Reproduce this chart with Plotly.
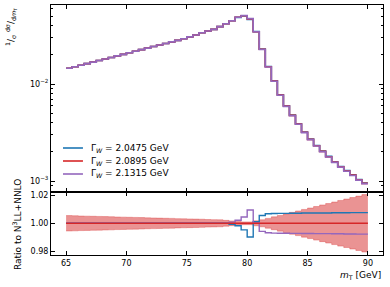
import plotly.graph_objects as go

# ---------------- data ----------------
bin_edges = [65.0 + 0.5 * i for i in range(51)]

# central prediction (N3LL+NNLO, Gamma_W = 2.0895 GeV), 1/sigma dsigma/dmT per bin
central = [0.01452, 0.01506, 0.01563, 0.01622, 0.01682, 0.01745, 0.01811, 0.01879,
           0.01950, 0.02022, 0.02099, 0.02177, 0.02259, 0.02344, 0.02432, 0.02523,
           0.02618, 0.02716, 0.02818, 0.02924, 0.03060, 0.03200, 0.03380, 0.03520,
           0.03660, 0.03900, 0.04180, 0.04490, 0.04870, 0.05060, 0.04680, 0.03460,
           0.02280, 0.01506, 0.01074, 0.00770, 0.00593, 0.00475, 0.00387, 0.00318,
           0.00269, 0.00231, 0.00202, 0.00178, 0.00157, 0.00140, 0.00127, 0.00115,
           0.00103, 0.000946]

# ratio of the other widths to the central prediction
ratio_low = [1.0] * 27 + [0.9992, 0.9982, 0.9953, 0.9902, 1.0012, 1.0056, 1.0068,
                          1.0070, 1.0071, 1.0071, 1.0072, 1.0072, 1.0073, 1.0073, 1.0074,
                          1.0074, 1.0074, 1.0075, 1.0075, 1.0075, 1.0076, 1.0076, 1.0076,
                          1.0076]
ratio_high = [1.0] * 27 + [1.0008, 1.0022, 1.0045, 1.0095, 1.0005, 0.9942, 0.9932,
                           0.9930, 0.9929, 0.9929, 0.9928, 0.9928, 0.9927, 0.9927, 0.9926,
                           0.9926, 0.9926, 0.9925, 0.9925, 0.9924, 0.9924, 0.9923, 0.9923,
                           0.9923]

# relative uncertainty half-width of the central prediction
band_hw = [0.0055, 0.0054, 0.0052, 0.0051, 0.0050, 0.0049, 0.0048, 0.0047, 0.0045,
           0.0044, 0.0043, 0.0042, 0.0041, 0.0039, 0.0038, 0.0037, 0.0036, 0.0035,
           0.0033, 0.0032, 0.0031, 0.0030, 0.0029, 0.0027, 0.0026, 0.0025, 0.0021,
           0.0017, 0.0013, 0.0010, 0.0010, 0.0018, 0.0025, 0.0035, 0.0046, 0.0056,
           0.0067, 0.0078, 0.0088, 0.0099, 0.0109, 0.0120, 0.0131, 0.0141, 0.0152,
           0.0163, 0.0173, 0.0184, 0.0194, 0.0205]

labels = ["Γ<sub><i>W</i></sub> = 2.0475 GeV", "Γ<sub><i>W</i></sub> = 2.0895 GeV",
          "Γ<sub><i>W</i></sub> = 2.1315 GeV"]
colors = ["#1f77b4", "#d62728", "#9467bd"]

x_ticks = [65, 70, 75, 80, 85, 90]


def step(v):
    return list(v) + [v[-1]]


low_vals = [c * r for c, r in zip(central, ratio_low)]
high_vals = [c * r for c, r in zip(central, ratio_high)]

fig = go.Figure()

# main panel
for vals, lab, col in zip([low_vals, central, high_vals], labels, colors):
    fig.add_trace(go.Scatter(x=bin_edges, y=step(vals), mode="lines", line_shape="hv",
                             line=dict(color=col, width=1.6), name=lab, showlegend=False,
                             xaxis="x", yaxis="y"))

# ratio panel: band
up = [1 + h for h in band_hw]
dn = [1 - h for h in band_hw]
fig.add_trace(go.Scatter(x=bin_edges, y=step(up), mode="lines", line_shape="hv",
                         line=dict(color="rgba(214,39,40,0.55)", width=0.6),
                         showlegend=False, xaxis="x2", yaxis="y2"))
fig.add_trace(go.Scatter(x=bin_edges, y=step(dn), mode="lines", line_shape="hv",
                         line=dict(color="rgba(214,39,40,0.55)", width=0.6),
                         fill="tonexty", fillcolor="rgba(214,39,40,0.5)",
                         showlegend=False, xaxis="x2", yaxis="y2"))
for vals, col in zip([ratio_low, ratio_high, [1.0] * 50], [colors[0], colors[2], colors[1]]):
    fig.add_trace(go.Scatter(x=bin_edges, y=step(vals), mode="lines", line_shape="hv",
                             line=dict(color=col, width=1.4), showlegend=False,
                             xaxis="x2", yaxis="y2"))

axis_common = dict(showline=True, linecolor="black", linewidth=1, mirror="allticks",
                   ticks="inside", ticklen=4, tickwidth=1, tickcolor="black",
                   showgrid=False, zeroline=False,
                   tickfont=dict(family="DejaVu Sans", size=8, color="black"))

L, R, T, B = 51, 383.5, 5, 255
W, H = R - L, B - T
split = (B - 191.5) / H

fig.update_layout(
    width=390, height=287,
    margin=dict(l=L, r=390 - R, t=T, b=287 - B),
    paper_bgcolor="white", plot_bgcolor="white",
    showlegend=False,
    xaxis=dict(domain=[0, 1], anchor="y", range=[63.75, 91.25], tickvals=x_ticks,
               showticklabels=False, **axis_common),
    yaxis=dict(domain=[split, 1], anchor="x", type="log", range=[-3.108, -1.1856],
               tickvals=[0.001, 0.01], ticktext=["10<sup>−3</sup>", "10<sup>−2</sup>"],
               minor=dict(ticks="inside", ticklen=2, tickcolor="black",
                          tickvals=[0.0009] + [k * 0.001 for k in range(2, 10)]
                          + [k * 0.01 for k in range(2, 7)]),
               **axis_common),
    xaxis2=dict(domain=[0, 1], anchor="y2", range=[63.75, 91.25], tickvals=x_ticks,
                matches="x", **axis_common),
    yaxis2=dict(domain=[0, split], anchor="x2", range=[0.97736, 1.0227],
                tickvals=[0.98, 1.00, 1.02], tickformat=".2f", **axis_common),
)


def px(xp):
    return (xp - L) / W


def py(yp):
    return (B - yp) / H


# legend (drawn in the main panel, lower left)
for i, (lab, col) in enumerate(zip(labels, colors)):
    yy = 148 + 13 * i
    fig.add_shape(type="line", xref="paper", yref="paper", x0=px(63), x1=px(83),
                  y0=py(yy), y1=py(yy), line=dict(color=col, width=1.6))
    fig.add_annotation(x=px(89), y=py(yy), xref="paper", yref="paper", xanchor="left",
                       yanchor="middle", showarrow=False, text=lab,
                       font=dict(family="DejaVu Sans", size=9, color="black"))

fig.add_annotation(x=px(11), y=py(6), xref="paper", yref="paper", xanchor="center",
                   yanchor="top", textangle=-90, showarrow=False,
                   text="<sup>1</sup>/<sub>σ</sub> <sup>dσ</sup>/<sub>d<i>m</i><sub>T</sub></sub>",
                   font=dict(family="DejaVu Sans", size=9, color="black"))
fig.add_annotation(x=px(17), y=py(225), xref="paper", yref="paper", xanchor="center",
                   yanchor="middle", textangle=-90, showarrow=False,
                   text="Ratio to N<sup>3</sup>LL+NNLO",
                   font=dict(family="DejaVu Sans", size=9, color="black"))
fig.add_annotation(x=px(383), y=py(275), xref="paper", yref="paper", xanchor="right",
                   yanchor="middle", showarrow=False,
                   text="<i>m</i><sub>T</sub> [GeV]",
                   font=dict(family="DejaVu Sans", size=9, color="black"))

fig.write_html("out.html", post_script="document.body.style.margin='0px';",
               config={"displayModeBar": False})
